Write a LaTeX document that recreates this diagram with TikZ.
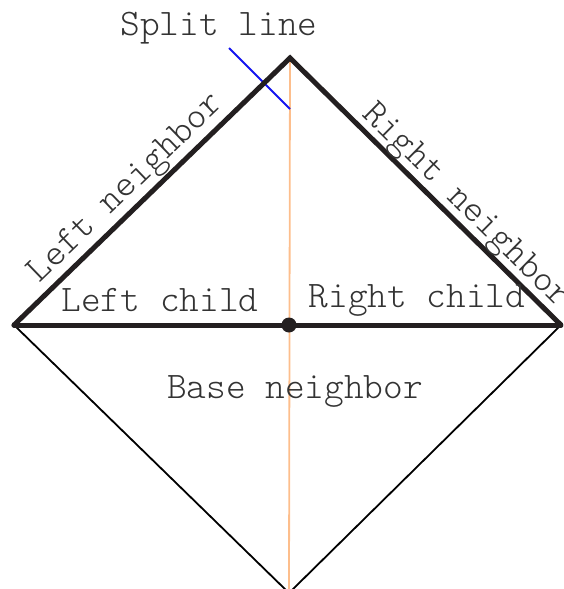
\documentclass[tikz,border=0pt]{standalone}
\usepackage{fontspec}
\setmonofont{Latin Modern Mono Light}
\definecolor{edgeblack}{RGB}{35,31,32}
\definecolor{splitorange}{RGB}{253,190,140}
\definecolor{perpblue}{RGB}{20,20,240}
\begin{document}
\begin{tikzpicture}[x=1pt,y=-1pt,
  lbl/.style={font=\ttfamily\fontsize{37.5}{40}\selectfont, text=black!80, inner sep=0pt},
  thickedge/.style={line width=5pt, draw=edgeblack, line cap=round, line join=miter},
  thinedge/.style={line width=1.8pt, draw=black},
  splitln/.style={line width=1.8pt, draw=splitorange},
  perpln/.style={line width=1.8pt, draw=perpblue}]
\useasboundingbox (0,0) rectangle (563,589);
\clip (0,0) rectangle (563,589);
\coordinate (T) at (290,58);
\coordinate (L) at (14,325);
\coordinate (R) at (561,325);
\coordinate (B) at (289,593);
\coordinate (C) at (289,325);
\coordinate (P1) at (229,48);
\coordinate (P2) at (290,109);
% thin lower edges
\draw[thinedge] (L) -- (B) -- (R);
% split line
\draw[splitln] (T) -- (B);
% perpendicular
\draw[perpln] (P1) -- (P2);
% thick edges
\draw[thickedge] (L) -- (T) -- (R);
\draw[thickedge] (L) -- (R);
\fill[edgeblack] (C) circle (7.5);
% labels
\node[lbl, anchor=base] (split) at (219,35) {Split line};
\node[lbl, anchor=base] (lchild) at (160,311) {Left child};
\node[lbl, anchor=base] (rchild) at (417,307) {Right child};
\node[lbl, anchor=base] (base) at (295,398) {Base neighbor};
\node[lbl, rotate=44] (lnb) at (127,189) {Left neighbor};
\node[lbl, rotate=-44.6] (rnb) at (465,207) {Right neighbor};
\end{tikzpicture}
\end{document}
